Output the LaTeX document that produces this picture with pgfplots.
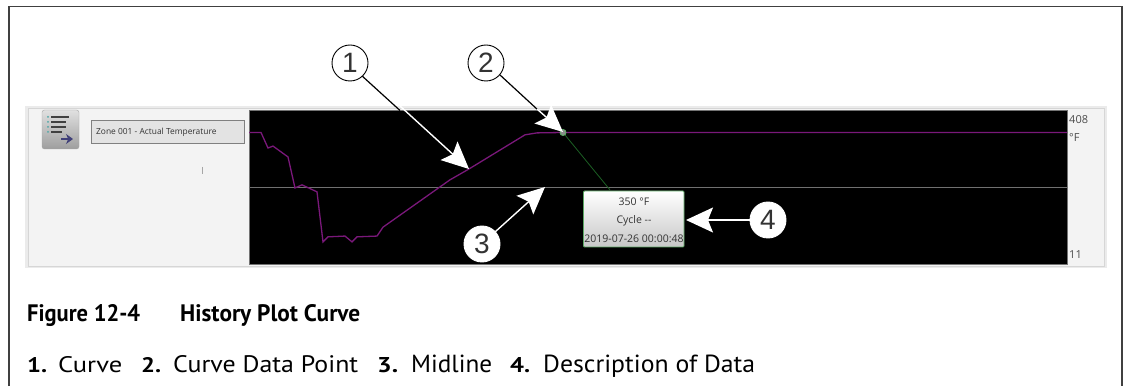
\documentclass[border=0pt]{standalone}
\usepackage{fontspec}
\setmainfont{PT Sans}
\newfontfamily\uifont{Open Sans}
\newfontfamily\numfont{Liberation Sans}
\usepackage{pgfplots}
\pgfplotsset{compat=1.18}
\usetikzlibrary{arrows.meta}
\definecolor{curve}{RGB}{122,24,122}
\definecolor{midline}{RGB}{112,112,112}
\definecolor{panel}{RGB}{243,243,243}
\definecolor{panelline}{RGB}{214,214,214}
\definecolor{tipgreen}{RGB}{92,168,100}
\definecolor{linkgreen}{RGB}{28,96,36}
\tikzset{
  px/.style={x=1pt,y=-1pt,yshift=386pt},
  callout/.style={circle,draw=black,line width=0.9pt,fill=white,minimum size=36pt,inner sep=0pt,
    font=\numfont\fontsize{28}{28}\selectfont\color[gray]{0.2}},
  whitearrow/.style={draw=white,line width=1.4pt,-{Stealth[length=27pt,width=25pt,inset=5pt,fill=white]}},
  captext/.style={anchor=base west,inner sep=0pt},
}
% text fitted to a measured width and height
\newcommand{\fit}[3]{\resizebox{#1pt}{#2pt}{#3}}
\begin{document}
\begin{tikzpicture}
\path[use as bounding box] (0,0) rectangle (1125pt,386pt);
\begin{scope}[px]
  % page frame
  \draw[line width=1.6pt,color=black!75] (9,386) -- (9,6.5) -- (1122,6.5) -- (1122,386);
  % panel behind the plot
  \fill[panelline!50] (25,106) rectangle (1107,268);
  \draw[fill=panel,draw=panelline,line width=0.8pt] (28,108) rectangle (1104,266.5);
  % menu button
  \shade[top color=black!12,bottom color=black!38,rounded corners=2.5pt,draw=black!35]
    (42,110) rectangle (79,149);
  \foreach \yy/\xe in {117/69,122/66,127/66,132/62}{
    \draw[line width=1.4pt,black!75] (51,\yy) -- (\xe,\yy);
    \fill[teal!70] (48,\yy) circle (1pt);
  }
  \draw[line width=2.2pt,color=blue!30!black!75,-{Stealth[length=7pt,width=10pt]}] (61,139) -- (73,139);
  % zone label
  \draw[fill=black!11,draw=black!50,line width=0.8pt] (91.5,120.5) rectangle (244,143.5);
  \node[anchor=west,inner sep=0pt,text=black!80,font=\uifont\fontsize{8.4}{9}\selectfont] at (96,132) {Zone 001 - Actual Temperature};
  \draw[black!35,line width=0.6pt] (202,167) -- (202,174);
\end{scope}

\begin{axis}[
  at={(249pt,122pt)}, anchor=south west,
  scale only axis, width=818pt, height=154pt,
  xmin=249, xmax=1067, ymin=11, ymax=408,
  ticks=none,
  axis background/.style={fill=black},
  axis line style={draw=black!55,line width=0.6pt},
]
% midline
\addplot[midline,line width=0.9pt] coordinates {(249,209.5)(1067,209.5)};
% link from the data point to its description
\addplot[linkgreen,line width=0.8pt] coordinates {(563,350)(610,202)};
% temperature curve
\addplot[curve,line width=1.3pt] coordinates {
 (249,350)(261,350)(268,310)(273,315)(288,287)(295,207)(302,215)(317,197)
 (323,68)(328,81)(345,83)(352,68)(357,81)(377,83)(383,106)(450,228)(469,256)
 (525,344)(537,349)(563,350)(700,350)(850,350)(1067,350)
};
% data point
\addplot[only marks,mark=*,mark size=3pt,mark options={fill=black!45,draw=tipgreen,line width=0.9pt}] coordinates {(563,350)};
\end{axis}

\begin{scope}[px]
  % axis range labels
  \node[anchor=west,inner sep=0pt,text=black!70,font=\uifont\fontsize{11}{12}\selectfont] at (1069,120) {408};
  \node[anchor=west,inner sep=0pt,text=black!70,font=\uifont\fontsize{11}{12}\selectfont] at (1069,138) {°F};
  \node[anchor=west,inner sep=0pt,text=black!70,font=\uifont\fontsize{11}{12}\selectfont] at (1069,255) {11};
  % description box
  \shade[left color=white,right color=black!22,shading angle=0,rounded corners=1pt]
    (583.5,191) rectangle (684,247);
  \draw[tipgreen,line width=0.9pt,rounded corners=1pt] (583.5,191) rectangle (684,247);
  \begin{scope}[every node/.style={inner sep=0pt,text=black!80,font=\uifont\fontsize{10.5}{11}\selectfont}]
    \node at (634,202) {350 °F};
    \node at (634,221) {Cycle -{}-};
    \node at (634,239) {2019-07-26 00:00:48};
  \end{scope}
  % callout leaders: black on the page, white over the plot
  \draw[black,line width=1.2pt] (361,75) -- (400,110.5);
  \draw[black,line width=1.2pt] (500,75) -- (538,110);
  \draw[whitearrow] (400,106) -- (469,169);
  \draw[whitearrow] (537,109) -- (563,132);
  \draw[whitearrow] (495,232) -- (545,187);
  \draw[whitearrow] (755,220) -- (686,220);
  % callouts
  \node[callout] at (350,63) {1};
  \node[callout] at (486,63) {2};
  \node[callout,draw=white] at (482,244) {3};
  \node[callout,draw=white] at (768,220) {4};
  % caption, each piece at its measured place
  \node[captext] at (27,321) {\fit{113}{17}{\bfseries Figure 12-4}};
  \node[captext] at (180,321) {\fit{180}{17}{\bfseries History Plot Curve}};
  \node[captext] at (27,372) {\fit{20}{15}{\bfseries 1.}};
  \node[captext] at (58,372) {\fit{64}{16}{Curve}};
  \node[captext] at (141,372) {\fit{20}{15}{\bfseries 2.}};
  \node[captext] at (173,372) {\fit{185}{17}{Curve Data Point}};
  \node[captext] at (377,372) {\fit{21}{15}{\bfseries 3.}};
  \node[captext] at (411,372) {\fit{81}{17.5}{Midline}};
  \node[captext] at (510,372) {\fit{20}{15}{\bfseries 4.}};
  \node[captext] at (543,372) {\fit{212}{17.5}{Description of Data}};
\end{scope}
\end{tikzpicture}
\end{document}
